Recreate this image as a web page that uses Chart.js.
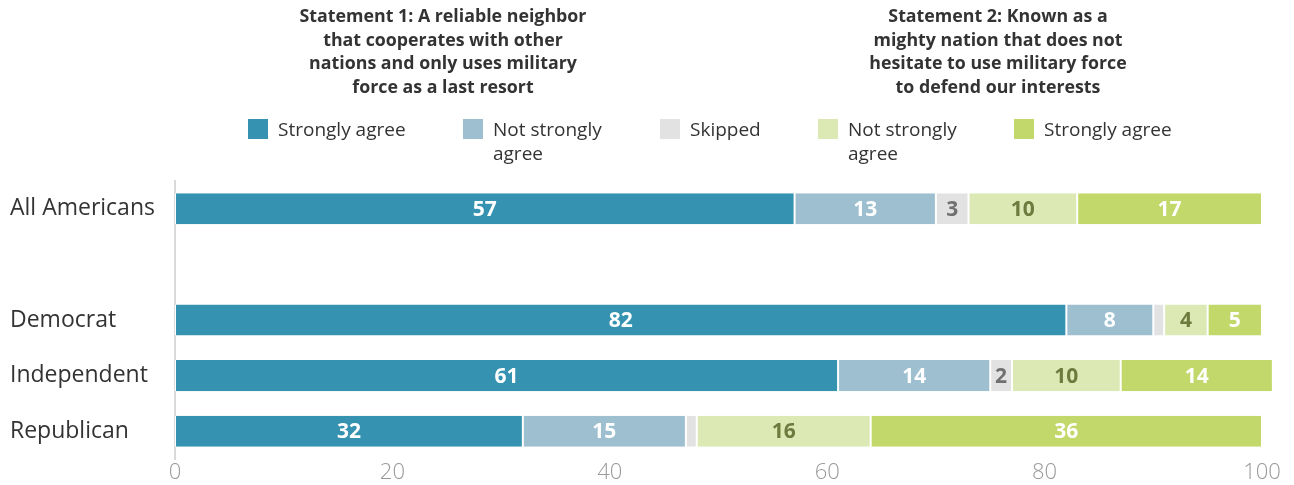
<!DOCTYPE html>
<html>
<head>
<meta charset="utf-8">
<script src="https://cdn.jsdelivr.net/npm/chart.js@4"></script>
<style>
  body { margin: 0; background: #fff; font-family: "Open Sans", sans-serif; color: #333; }
  #wrap { position: relative; width: 1294px; height: 485px; }
  canvas { position: absolute; left: 0; top: 0; }
  .title { position: absolute; top: 4px; width: 400px; text-align: center; font-weight: bold; font-size: 17.8px; line-height: 23.7px; color: #333; }
  .leg { position: absolute; top: 117px; font-size: 19px; line-height: 24px; color: #333; }
  .leg .sw { position: absolute; left: 0; top: 2px; width: 20px; height: 20px; }
  .leg .tx { position: absolute; left: 30px; top: 0; white-space: nowrap; }
</style>
</head>
<body>
<div id="wrap">
  <canvas id="chart" width="1294" height="485"></canvas>
  <div class="title" style="left:243px">Statement 1: A reliable neighbor<br>that cooperates with other<br>nations and only uses military<br>force as a last resort</div>
  <div class="title" style="left:798px">Statement 2: Known as a<br>mighty nation that does not<br>hesitate to use military force<br>to defend our interests</div>
  <div id="legend"></div>
</div>
<script>
const categories = ["All Americans", "", "Democrat", "Independent", "Republican"];
const seriesNames = ["Strongly agree", "Not strongly agree", "Skipped", "Not strongly agree", "Strongly agree"];
const s1Strong = [57, null, 82, 61, 32];
const s1NotStrong = [13, null, 8, 14, 15];
const skipped = [3, null, 1, 2, 1];
const s2NotStrong = [10, null, 4, 10, 16];
const s2Strong = [17, null, 5, 14, 36];
const xTicks = [0, 20, 40, 60, 80, 100];

const colors = ["#3592b0", "#9ebfcf", "#e2e2e2", "#dce9b4", "#c3d86a"];
const labelColors = ["#fff", "#fff", "#707070", "#6e7a3e", "#fff"];
const legendLines = [["Strongly agree"], ["Not strongly", "agree"], ["Skipped"], ["Not strongly", "agree"], ["Strongly agree"]];
const legendX = [248, 463, 660, 818, 1014];

// html legend
const legendDiv = document.getElementById("legend");
legendLines.forEach((lines, i) => {
  const item = document.createElement("div");
  item.className = "leg";
  item.style.left = legendX[i] + "px";
  item.innerHTML = `<div class="sw" style="background:${colors[i]}"></div><div class="tx">${lines.join("<br>")}</div>`;
  legendDiv.appendChild(item);
});

const values = [s1Strong, s1NotStrong, skipped, s2NotStrong, s2Strong];

// value labels inside the bar segments
const barLabels = {
  id: "barLabels",
  afterDatasetsDraw(chart) {
    const ctx = chart.ctx;
    ctx.save();
    ctx.font = "bold 21px 'Open Sans'";
    ctx.textAlign = "center";
    ctx.textBaseline = "middle";
    chart.data.datasets.forEach((ds, di) => {
      chart.getDatasetMeta(di).data.forEach((bar, i) => {
        const v = ds.data[i];
        if (v == null || v < 2) return;
        ctx.fillStyle = labelColors[di];
        ctx.fillText(v, (bar.x + bar.base) / 2, bar.y + 1);
      });
    });
    ctx.restore();
  }
};

new Chart(document.getElementById("chart"), {
  type: "bar",
  data: {
    labels: categories,
    datasets: values.map((d, i) => ({
      label: seriesNames[i],
      data: d,
      backgroundColor: colors[i],
      borderColor: "#fff",
      borderWidth: { left: 1, right: 1, top: 0, bottom: 0 },
      borderSkipped: false,
      barPercentage: 0.56,
      categoryPercentage: 1,
      clip: false
    }))
  },
  options: {
    indexAxis: "y",
    responsive: false,
    animation: false,
    layout: { padding: { left: 10, right: 32, top: 181, bottom: 0 } },
    plugins: { legend: { display: false }, tooltip: { enabled: false } },
    scales: {
      x: {
        stacked: true,
        min: 0,
        max: 100,
        afterBuildTicks: (scale) => { scale.ticks = xTicks.map(v => ({ value: v })); },
        afterFit: (scale) => { scale.height = 26; },
        grid: { display: false, drawTicks: false },
        border: { display: false },
        ticks: { color: "#999", padding: 1, font: { family: "Open Sans", size: 22, weight: 300 } }
      },
      y: {
        stacked: true,
        afterFit: (scale) => { scale.width = 165; },
        grid: { display: false, drawTicks: false },
        border: { display: true, color: "#dadada", width: 2 },
        ticks: { color: "#333", crossAlign: "far", font: { family: "Open Sans", size: 23 } }
      }
    }
  },
  plugins: [barLabels]
});
</script>
</body>
</html>
